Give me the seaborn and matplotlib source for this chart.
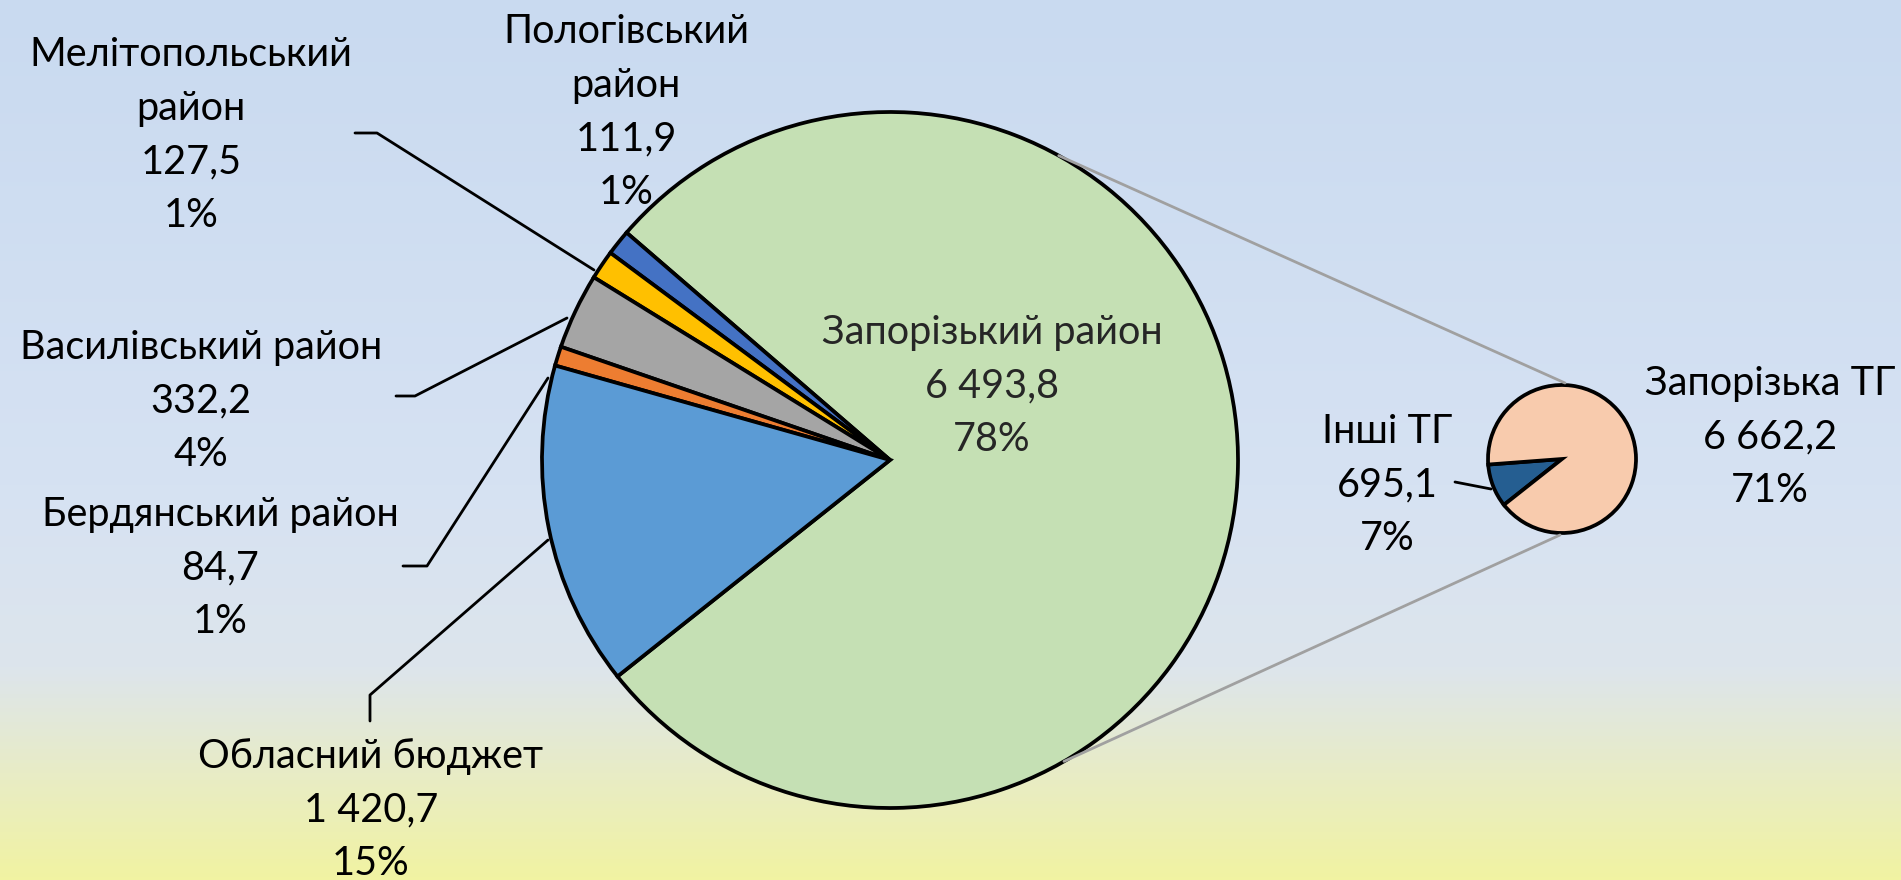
import numpy as np
import matplotlib
matplotlib.use("Agg")
import matplotlib.pyplot as plt
import seaborn as sns
from matplotlib.colors import LinearSegmentedColormap

# ---------------- дані ----------------
main_names = ["Пологівський\nрайон", "Мелітопольський\nрайон", "Василівський район",
              "Бердянський район", "Обласний бюджет"]
main_values = [111.9, 127.5, 332.2, 84.7, 1420.7]
main_colors = ["#4472C4", "#FFC000", "#A5A5A5", "#ED7D31", "#5B9BD5"]

sub_names = ["Інші ТГ", "Запорізька ТГ"]
sub_values = [695.1, 6662.2]
sub_colors = ["#255E91", "#F8CBAD"]

other_name = "Запорізький район"
other_value_label = 6493.8
other_color = "#C5E0B4"

W, H = 1901, 880


def fmt(v):
    return f"{v:,.1f}".replace(",", " ").replace(".", ",")


def py(y):
    # піксельна координата зверху -> координата осі
    return H - y


sns.set_theme(style="white")
plt.rcParams["font.family"] = ["Lato", "DejaVu Sans"]

fig = plt.figure(figsize=(W / 100, H / 100), dpi=100)
ax = fig.add_axes([0, 0, 1, 1])

# фон-градієнт
bg = LinearSegmentedColormap.from_list(
    "bg", [(0.0, "#C9DAF0"), (0.55, "#D6E2F3"), (0.76, "#DDE5EC"),
           (0.88, "#E8ECC6"), (1.0, "#F1F3A2")])
grad = np.linspace(0, 1, 256).reshape(-1, 1)
ax.imshow(grad, cmap=bg, extent=[0, W, 0, H], aspect="auto", zorder=0)

total = sum(main_values) + sum(sub_values)
other_value = sum(sub_values)

# головний пиріг
cx, cy, r = 890, py(460), 348
vals = [other_value] + main_values
cols = [other_color] + main_colors
start = 139.2 - 360 * other_value / total
ax.pie(vals, colors=cols, startangle=start, counterclock=True,
       center=(cx, cy), radius=r, frame=True,
       wedgeprops=dict(edgecolor="black", linewidth=2.7))

# малий пиріг
sx, sy, sr = 1562, py(459), 74
ax.pie(sub_values, colors=sub_colors, startangle=184.3, counterclock=True,
       center=(sx, sy), radius=sr, frame=True,
       wedgeprops=dict(edgecolor="black", linewidth=2.7))

# сполучні лінії
for a, (ex, ey) in [(61, (1565, 383)), (-60, (1560, 535))]:
    t = np.deg2rad(a)
    ax.plot([cx + r * np.cos(t), ex], [cy + r * np.sin(t), py(ey)],
            color="#A0A0A0", lw=2, zorder=1)

# підписи
fs = 28.5
ls = 1.55


def label(x, y, name, v):
    pct = round(v / total * 100)
    ax.text(x, py(y), f"{name}\n{fmt(v)}\n{pct}%", ha="center", va="center",
            fontsize=fs, linespacing=ls, color="black", zorder=5)


pos = [(626, 112), (191, 135), (201, 401), (220, 568), (371, 810)]
for (x, y), n, v in zip(pos, main_names, main_values):
    label(x, y, n, v)

ax.text(992, py(386), f"{other_name}\n{fmt(other_value_label)}\n{round(other_value / total * 100)}%",
        ha="center", va="center", fontsize=fs, linespacing=ls, zorder=5)

label(1387, 485, sub_names[0], sub_values[0])
label(1770, 437, sub_names[1], sub_values[1])

# виносні лінії
leaders = [
    [(355, 133), (377, 133), (594, 270)],
    [(396, 396), (415, 396), (567, 318)],
    [(403, 566), (427, 566), (548, 378)],
    [(370, 721), (370, 695), (548, 540)],
    [(1455, 482), (1491, 489)],
]
for pts in leaders:
    xs = [p[0] for p in pts]
    ys = [py(p[1]) for p in pts]
    ax.plot(xs, ys, color="black", lw=2, zorder=4)

ax.set_xlim(0, W)
ax.set_ylim(0, H)
ax.set_aspect("equal")
ax.axis("off")

fig.savefig("out.png", dpi=100)
